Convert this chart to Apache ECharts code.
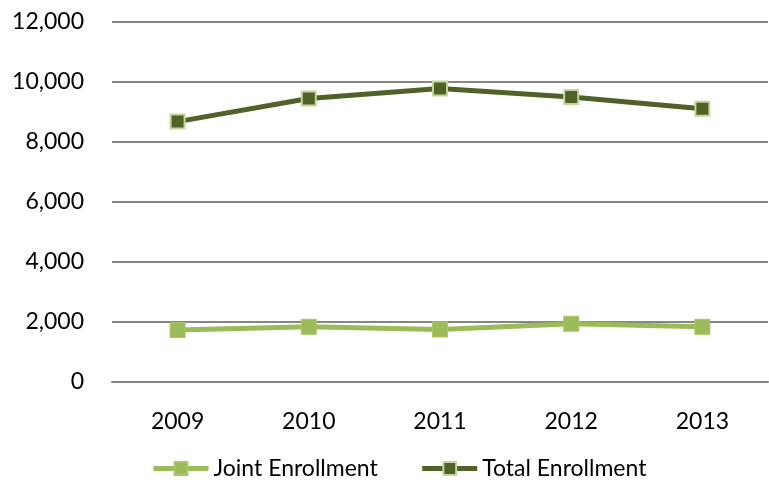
<!DOCTYPE html>
<html>
<head>
<meta charset="utf-8">
<script src="https://cdn.jsdelivr.net/npm/echarts@6/dist/echarts.min.js"></script>
<style>
  html, body { margin: 0; padding: 0; background: #fff; }
  #chart { width: 769px; height: 485px; }
</style>
</head>
<body>
<div id="chart"></div>
<script>
// chart data
var years = ['2009', '2010', '2011', '2012', '2013'];
var jointEnrollment = [1730, 1840, 1750, 1940, 1840];
var totalEnrollment = [8680, 9450, 9780, 9500, 9110];

var chart = echarts.init(document.getElementById('chart'));
var font = 'Lato, "Open Sans", sans-serif';

var option = {
	animation: false,
	grid: {
		left: 112,
		right: 1,
		top: 22,
		bottom: 103
	},
	legend: {
		left: 146,
		bottom: 0,
		itemWidth: 55,
		itemHeight: 16,
		itemGap: 42,
		lineStyle: { width: 5 },
		textStyle: { fontFamily: font, fontSize: 23, color: '#000' },
		data: ['Joint Enrollment', 'Total Enrollment']
	},
	xAxis: {
		type: 'category',
		data: years,
		boundaryGap: true,
		axisLine: { show: true, lineStyle: { color: '#868686', width: 2 } },
		axisTick: { show: false },
		axisLabel: { fontFamily: font, fontSize: 23, color: '#000', margin: 28 }
	},
	yAxis: {
		type: 'value',
		min: 0,
		max: 12000,
		interval: 2000,
		axisLine: { show: false },
		axisTick: { show: false },
		splitLine: { lineStyle: { color: '#868686', width: 2 } },
		axisLabel: {
			fontFamily: font, fontSize: 23, color: '#000', margin: 28,
			formatter: function (v) { return v.toLocaleString('en-US'); }
		}
	},
	series: [
		{
			name: 'Joint Enrollment',
			type: 'line',
			data: jointEnrollment,
			symbol: 'rect',
			symbolSize: 15,
			lineStyle: { color: '#9BBB59', width: 5 },
			itemStyle: { color: '#9BBB59', borderColor: '#A8C76A', borderWidth: 1 }
		},
		{
			name: 'Total Enrollment',
			type: 'line',
			data: totalEnrollment,
			symbol: 'rect',
			symbolSize: 14,
			lineStyle: { color: '#4F6228', width: 5 },
			itemStyle: { color: '#4F6228', borderColor: '#C3D69B', borderWidth: 2 }
		}
	]
};

chart.setOption(option);
</script>
</body>
</html>
